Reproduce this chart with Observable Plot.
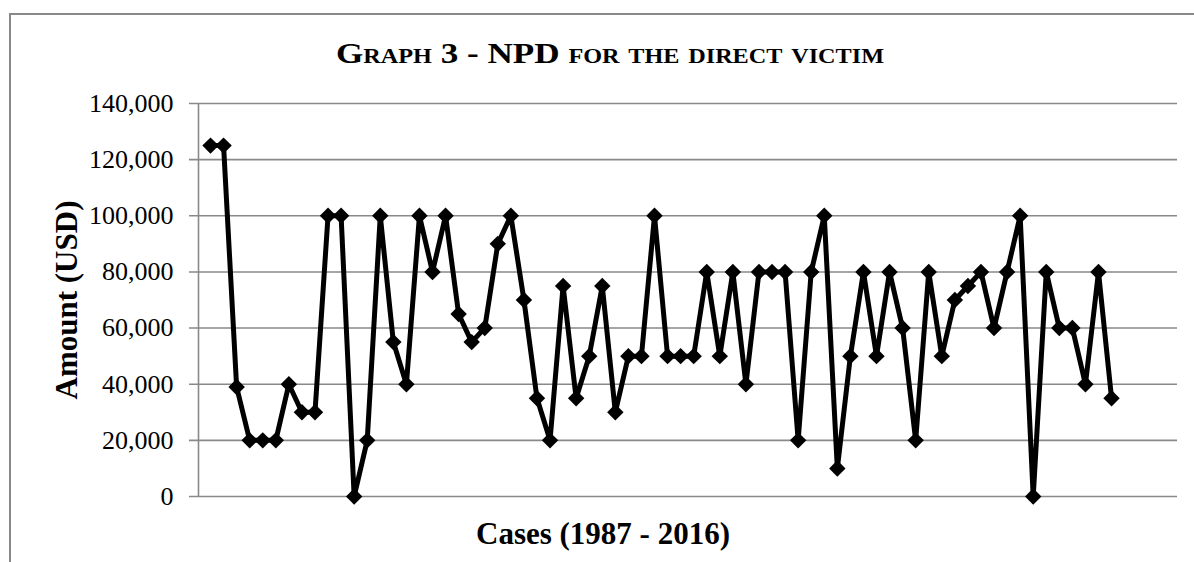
<!DOCTYPE html>
<html>
<head>
<meta charset="utf-8">
<script src="https://cdn.jsdelivr.net/npm/d3@7"></script>
<script src="https://cdn.jsdelivr.net/npm/@observablehq/plot@0.6"></script>
<style>
  html, body { margin: 0; padding: 0; background: #fff; }
  #wrap { position: relative; width: 1194px; height: 562px; overflow: hidden; background: #fff; }
  #frame { position: absolute; left: 9px; top: 12.5px; width: 1300px; height: 800px;
           border: 2px solid #898989; pointer-events: none; box-sizing: border-box; }
</style>
</head>
<body>
<div id="wrap"><div id="frame"></div></div>
<script>
const titleText = "Graph 3 - NPD for the direct victim";
const yLabel = "Amount (USD)";
const xLabel = "Cases (1987 - 2016)";
const yTicks = [0, 20000, 40000, 60000, 80000, 100000, 120000, 140000];
const cases = d3.range(1, 71);
const amounts = [
  125000, 125000, 39000, 20000, 20000, 20000, 40000, 30000, 30000, 100000,
  100000, 0, 20000, 100000, 55000, 40000, 100000, 80000, 100000, 65000,
  55000, 60000, 90000, 100000, 70000, 35000, 20000, 75000, 35000, 50000,
  75000, 30000, 50000, 50000, 100000, 50000, 50000, 50000, 80000, 50000,
  80000, 40000, 80000, 80000, 80000, 20000, 80000, 100000, 10000, 50000,
  80000, 50000, 80000, 60000, 20000, 80000, 50000, 70000, 75000, 80000,
  60000, 80000, 100000, 0, 80000, 60000, 60000, 40000, 80000, 35000
];

const data = cases.map((c, i) => ({c, v: amounts[i]}));
const xDomain = [0.08, 75.05];
const gray = "#898989";

const chart = Plot.plot({
  width: 1194,
  height: 562,
  marginLeft: 198,
  marginRight: 17,
  marginTop: 103,
  marginBottom: 66,
  style: {fontFamily: "'Liberation Serif', 'Times New Roman', serif", fontSize: "26px", color: "black", background: "transparent", overflow: "visible"},
  x: {domain: xDomain, axis: null},
  y: {domain: [0, 140000]},
  marks: [
    Plot.ruleY(yTicks, {stroke: gray, strokeWidth: 1.6, insetLeft: -9}),
    Plot.ruleX([xDomain[0]], {stroke: gray, strokeWidth: 1.6}),
    Plot.axisY(yTicks, {tickSize: 0, tickPadding: 25, tickFormat: d3.format(","), fontSize: 26, label: null, fill: "black"}),
    Plot.line(data, {x: "c", y: "v", stroke: "black", strokeWidth: 5, strokeLinejoin: "round"}),
    Plot.dot(data, {x: "c", y: "v", symbol: "diamond2", r: 7.4, fill: "black", stroke: "none"}),
    Plot.text([titleText], {text: d => d, frameAnchor: "top", textAnchor: "middle", lineAnchor: "bottom", dx: -78, dy: -41, fontSize: 29, fontWeight: "bold", fontVariant: "small-caps", fill: "black"}),
    Plot.text([yLabel], {text: d => d, frameAnchor: "left", textAnchor: "middle", lineAnchor: "bottom", rotate: -90, dx: -122, fontSize: 31, fontWeight: "bold", fill: "black"}),
    Plot.text([xLabel], {text: d => d, frameAnchor: "bottom", textAnchor: "middle", lineAnchor: "bottom", dx: -85, dy: 47, fontSize: 31, fontWeight: "bold", fill: "black"})
  ]
});
document.getElementById("wrap").prepend(chart);
// widen the small-caps title to the reference's wider glyph set
d3.select(chart).selectAll("text").filter(function() { return this.textContent === titleText; })
  .attr("textLength", 548).attr("lengthAdjust", "spacingAndGlyphs");
</script>
</body>
</html>
